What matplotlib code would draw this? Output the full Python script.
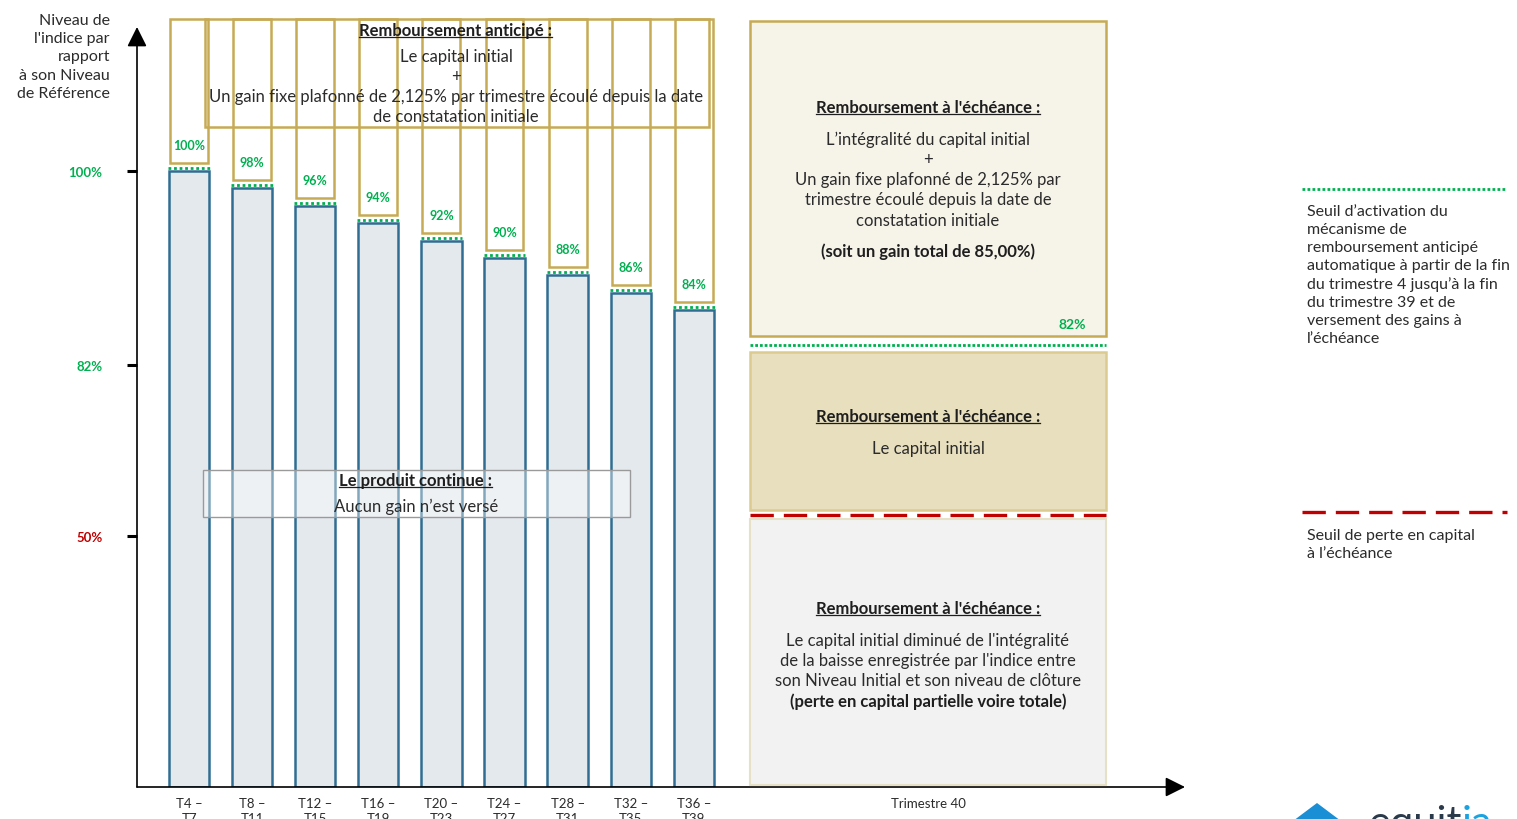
import numpy as np
import matplotlib
matplotlib.use('Agg')
import matplotlib.pyplot as plt
from matplotlib.patches import Rectangle, FancyArrowPatch, Polygon
from matplotlib.lines import Line2D
import matplotlib.transforms as mtransforms

plt.rcParams['font.family'] = ['Lato', 'DejaVu Sans']

# ---------------- data ----------------
periods = ["T4 –\nT7", "T8 –\nT11", "T12 –\nT15", "T16 –\nT19", "T20 –\nT23",
           "T24 –\nT27", "T28 –\nT31", "T32 –\nT35", "T36 –\nT39"]
thresholds = [100, 98, 96, 94, 92, 90, 88, 86, 84]
threshold_labels = ["100%", "98%", "96%", "94%", "92%", "90%", "88%", "86%", "84%"]
final_period = "Trimestre 40"
autocall_final = 82
capital_barrier = 50
ytick_values = [100, 82, 50]
ytick_labels = ["100%", "82%", "50%"]

# ---------------- style ----------------
GREEN = '#00B050'
RED = '#C00000'
GOLD = '#C6AA55'
BAR_FACE = '#E4E9EE'
BAR_EDGE = '#2F6E92'
TXT = '#2b2b2b'

W, H = 1517, 820
fig = plt.figure(figsize=(W / 100, H / 100), dpi=100)

# schematic (piecewise linear) vertical scale: value -> pixels above x axis
SCALE_V = [0, 50, 82, 84, 100, 130]
SCALE_P = [0, 251, 422, 477, 616, 877]
def fwd(v):
    return np.interp(v, SCALE_V, SCALE_P)
def inv(p):
    return np.interp(p, SCALE_P, SCALE_V)

AX_L, AX_R, AX_B, AX_T = 137, 1185, 788, 10   # pixel frame of the chart
PX_PER_CAT = 63.1
X0 = -52 / PX_PER_CAT
ax = fig.add_axes([AX_L / W, (H - AX_B) / H, (AX_R - AX_L) / W, (AX_B - AX_T) / H])
ax.set_yscale('function', functions=(fwd, inv))
ax.set_ylim(0, float(inv(AX_B - AX_T)))
ax.set_xlim(X0, X0 + (AX_R - AX_L) / PX_PER_CAT)
ax.patch.set_alpha(0)
for s in ax.spines.values():
    s.set_visible(False)

def up(px):
    return ax.transData + mtransforms.ScaledTranslation(0, px / 100, fig.dpi_scale_trans)

x = np.arange(len(thresholds))
GOLD_TOP = float(inv(AX_B - 20 - 8))

# bars (index level)
ax.bar(x, thresholds, width=0.64, color=BAR_FACE, edgecolor=BAR_EDGE, linewidth=1.8, zorder=2)
# early-redemption boxes above thresholds
gold = ax.bar(x, [GOLD_TOP - t for t in thresholds], bottom=thresholds, width=0.6,
              color='white', edgecolor=GOLD, linewidth=1.8, zorder=1)
for r in gold:
    r.set_transform(up(8))
# threshold dotted lines + labels
for xi, t, lab in zip(x, thresholds, threshold_labels):
    ax.plot([xi - 0.33, xi + 0.33], [t, t], transform=up(3), color=GREEN, lw=2.0,
            linestyle=(0, (1, 1)), dash_capstyle='butt', zorder=3)
    ax.text(xi, t, lab, transform=up(26), ha='center', va='center', color=GREEN,
            fontsize=9, fontweight='bold', zorder=4)

# right panel threshold lines (Trimestre 40)
PANEL_X0 = (750 - 189) / PX_PER_CAT
PANEL_X1 = (1106 - 189) / PX_PER_CAT
FINAL_X = (928 - 189) / PX_PER_CAT
ax.plot([PANEL_X0, PANEL_X1], [autocall_final] * 2, transform=up(20), color=GREEN, lw=2.0,
        linestyle=(0, (1, 0.7)), dash_capstyle='butt', zorder=3)
ax.plot([PANEL_X0, PANEL_X1], [capital_barrier] * 2, transform=up(21), color=RED, lw=2.4,
        linestyle=(0, (7, 3)), dash_capstyle='butt', zorder=3)

# ticks
ax.set_yticks(ytick_values, ytick_labels)
ax.yaxis.set_minor_locator(matplotlib.ticker.NullLocator())
ax.tick_params(axis='y', length=7, width=2.2, pad=18, labelsize=9.5)
ycols = [GREEN, GREEN, RED]
for tk, c in zip(ax.yaxis.get_major_ticks(), ycols):
    tk.tick1line.set_color(c)
    tk.label1.set_color(c)
    tk.label1.set_fontweight('bold')
ax.set_xticks(list(x) + [FINAL_X], periods + [final_period])
ax.xaxis.set_minor_locator(matplotlib.ticker.NullLocator())
ax.tick_params(axis='x', length=0, pad=7, labelsize=9.5, labelcolor=TXT)
for lbl in ax.get_xticklabels():
    lbl.set_linespacing(1.3)

# axis arrows
ytip = (AX_B - 28) / (AX_B - AX_T)
for a, b in [((0, 0), (0, ytip)), ((0, 0), (1, 0))]:
    ax.add_patch(FancyArrowPatch(a, b, transform=ax.transAxes,
                                 arrowstyle='-|>,head_length=0.6,head_width=0.3',
                                 mutation_scale=20, lw=1.2, color='black',
                                 shrinkA=0, shrinkB=0, clip_on=False, zorder=5))

fig.text(110 / W, 1 - 14 / H, "Niveau de\nl'indice par\nrapport\nà son Niveau\nde Référence",
         ha='right', va='top', fontsize=11.5, linespacing=1.38, color=TXT)

# ---------------- overlay (annotations, pixel coordinates) ----------------
ov = fig.add_axes([0, 0, 1, 1], zorder=3)
ov.set_xlim(0, W)
ov.set_ylim(H, 0)
ov.axis('off')

ov.add_patch(Rectangle((750, 22), 356, 315, fc='#F6F3E9', ec=GOLD, lw=1.8))
ov.add_patch(Rectangle((750, 353), 356, 158, fc='#E8DFBE', ec='#DCCB91', lw=1.8))
ov.add_patch(Rectangle((750, 520), 356, 266, fc='#F2F2F2', ec='#E6E0C6', lw=1.5))
ov.add_patch(Rectangle((205, 20), 504, 108, fill=False, ec=GOLD, lw=1.8))
ov.add_patch(Rectangle((203, 471), 427, 47, fc=(1, 1, 1, 0.4), ec='#9A9A9A', lw=1))

titles = []
def title(xc, yb, s):
    t = ov.text(xc, yb, s, ha='center', va='baseline', fontsize=12, fontweight='bold', color='#1e1e1e')
    titles.append((t, yb))

def body(xc, yc, s, bold=False, size=12, ls=1.37):
    ov.text(xc, yc, s, ha='center', va='center', fontsize=size, color='#1e1e1e' if bold else TXT,
            fontweight='bold' if bold else 'normal', linespacing=ls)

title(456, 36, "Remboursement anticipé :")
body(456, 57, "Le capital initial")
body(456, 77, "+")
body(456, 107, "Un gain fixe plafonné de 2,125% par trimestre écoulé depuis la date\nde constatation initiale")

title(416, 486, "Le produit continue :")
body(416, 507, "Aucun gain n’est versé")

title(928, 113, "Remboursement à l'échéance :")
body(928, 140, "L’intégralité du capital initial")
body(928, 160, "+")
body(928, 200.5, "Un gain fixe plafonné de 2,125% par\ntrimestre écoulé depuis la date de\nconstatation initiale",
     ls=1.33)
body(928, 252, "(soit un gain total de 85,00%)", bold=True)
ov.text(1072, 325, "82%", ha='center', va='center', color=GREEN, fontsize=10, fontweight='bold')

title(928, 422, "Remboursement à l'échéance :")
body(928, 449, "Le capital initial")

title(928, 614, "Remboursement à l'échéance :")
body(928, 661, "Le capital initial diminué de l'intégralité\nde la baisse enregistrée par l'indice entre\nson Niveau Initial et son niveau de clôture",
     ls=1.31)
body(928, 702, "(perte en capital partielle voire totale)", bold=True)

# legend (right)
ov.add_line(Line2D([1302, 1507], [190, 190], color=GREEN, lw=2.0, linestyle=(0, (1, 0.8)),
                   dash_capstyle='butt'))
ov.text(1307, 205, "Seuil d’activation du\nmécanisme de\nremboursement anticipé\nautomatique à partir de la fin\n"
        "du trimestre 4 jusqu’à la fin\ndu trimestre 39 et de\nversement des gains à\nl’échéance",
        ha='left', va='top', fontsize=11.5, linespacing=1.36, color=TXT)
ov.add_line(Line2D([1302, 1507], [513, 513], color=RED, lw=2.4, linestyle=(0, (7, 3)),
                   dash_capstyle='butt'))
ov.text(1307, 529, "Seuil de perte en capital\nà l’échéance", ha='left', va='top', fontsize=11.5,
        linespacing=1.36, color=TXT)

# logo (partially cut at bottom edge)
ov.add_patch(Polygon([[1293, 822], [1317, 804], [1341, 822]], closed=True, fc='#1A8FD6', ec='none'))
logo1 = ov.text(1368, 836, "equit", ha='left', va='baseline', fontsize=30, color='#2B3A4A')

# underline titles + logo end
renderer = fig.canvas.get_renderer()
bbl = logo1.get_window_extent(renderer=renderer)
lx1, _ = ov.transData.inverted().transform((bbl.x1, bbl.y0))
ov.text(lx1, 836, "ia", ha='left', va='baseline', fontsize=30, color='#1AA3E0')
for t, yb in titles:
    bb = t.get_window_extent(renderer=renderer)
    x0, _ = ov.transData.inverted().transform((bb.x0, bb.y0))
    x1, _ = ov.transData.inverted().transform((bb.x1, bb.y0))
    ov.add_line(Line2D([x0, x1], [yb + 2, yb + 2], color='#1e1e1e', lw=0.9))

fig.savefig('out.png', dpi=100)
